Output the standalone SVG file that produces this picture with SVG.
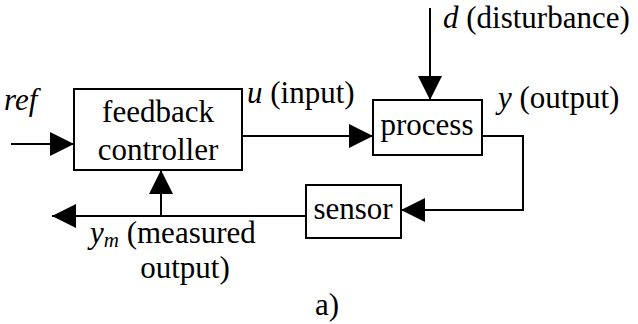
<svg xmlns="http://www.w3.org/2000/svg" width="638" height="324" viewBox="0 0 638 324">
<style>
  .box { fill: #fff; stroke: #000; stroke-width: 2; }
  .wire { fill: none; stroke: #000; stroke-width: 2; marker-end: url(#arr); }
  text { font-family: 'Liberation Serif', 'Times New Roman', serif; font-size: 31px; fill: #000; }
  .c { text-anchor: middle; }
  .i { font-style: italic; }
</style>
<defs>
  <marker id="arr" markerUnits="userSpaceOnUse" markerWidth="24" markerHeight="24" viewBox="0 0 24 24" refX="24" refY="12" orient="auto">
    <path d="M0,0 L24,12 L0,24 z" fill="#000"/>
  </marker>
</defs>
<rect width="638" height="324" fill="#fff"/>
<g id="connectors">
  <path class="wire" d="M11,144 H74"/>
  <path class="wire" d="M243,136 H373"/>
  <path class="wire" d="M430,8 V100"/>
  <path class="wire" d="M482,136 H523 V210 H401"/>
  <path class="wire" d="M306,216 H52"/>
  <path class="wire" d="M161,216 V170"/>
</g>
<g id="controller">
  <rect class="box" x="74" y="89" width="168" height="81"/>
  <text class="c" x="158" y="122">feedback</text>
  <text class="c" x="158" y="160">controller</text>
</g>
<g id="process">
  <rect class="box" x="373" y="100" width="109" height="55"/>
  <text class="c" x="427" y="135">process</text>
</g>
<g id="sensor">
  <rect class="box" x="306" y="185" width="95" height="53"/>
  <text class="c" x="353" y="219">sensor</text>
</g>
<g id="labels">
  <text class="i" x="4" y="110">ref</text>
  <text x="247" y="103"><tspan class="i">u</tspan> (input)</text>
  <text x="443" y="28" font-size="30"><tspan class="i">d</tspan> (disturbance)</text>
  <text x="498" y="108"><tspan class="i">y</tspan> (output)</text>
  <text x="90" y="243"><tspan class="i">y</tspan><tspan class="i" font-size="21" dy="4">m</tspan><tspan dy="-4"> (measured</tspan></text>
  <text class="c" x="185" y="278">output)</text>
  <text x="315" y="315">a)</text>
</g>
</svg>
